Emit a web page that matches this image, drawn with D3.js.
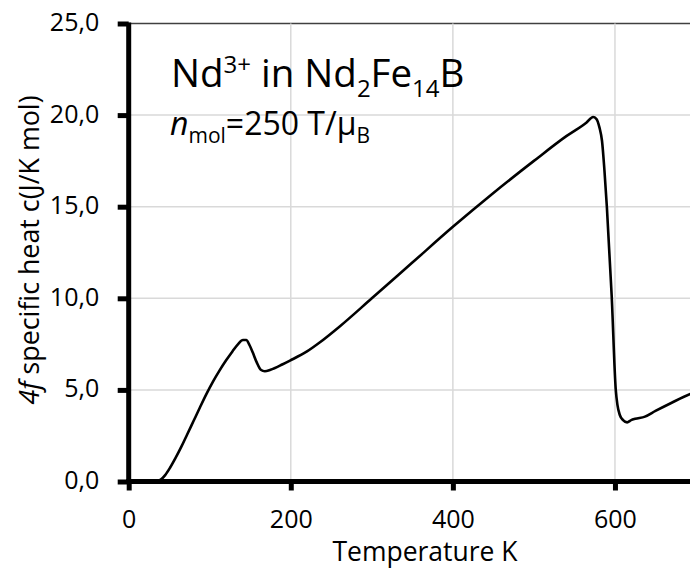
<!DOCTYPE html>
<html><head><meta charset="utf-8">
<script src="https://cdn.jsdelivr.net/npm/d3@7"></script>
<style>
body{margin:0;background:#fff;overflow:hidden}
svg{display:block;font-family:"Open Sans",sans-serif}
</style>
</head><body>
<svg id="chart" width="690" height="569"></svg>
<script>
// ---- data ----
const temperature  = [0, 20, 33, 40, 45, 51, 58, 65, 72, 80, 88, 96, 104, 112, 120, 128, 135, 141, 145, 149, 153, 158, 163, 168, 175, 190, 199, 220, 236, 260, 300, 350, 400, 450, 500, 540, 565, 573, 577, 581, 584, 587, 590, 596, 601, 603, 606, 610, 615, 620, 625, 637, 650, 670, 693, 700];
const specificHeat = [0, 0, 0, 0.12, 0.35, 0.75, 1.3, 1.9, 2.55, 3.3, 4.05, 4.78, 5.45, 6.05, 6.6, 7.1, 7.5, 7.72, 7.72, 7.45, 7.05, 6.5, 6.1, 6.02, 6.1, 6.4, 6.6, 7.1, 7.6, 8.45, 10.0, 11.95, 13.9, 15.75, 17.5, 18.85, 19.6, 19.9, 19.8, 19.3, 18.6, 17.0, 15.0, 10.1, 5.0, 4.2, 3.63, 3.35, 3.23, 3.35, 3.42, 3.54, 3.85, 4.3, 4.78, 4.9];
const xTickValues = [0, 200, 400, 600];
const xTickLabels = ["0", "200", "400", "600"];
const yTickValues = [0, 5, 10, 15, 20, 25];
const yTickLabels = ["0,0", "5,0", "10,0", "15,0", "20,0", "25,0"];
const xTitle = "Temperature K";

const svg = d3.select("#chart");
const x = d3.scaleLinear().domain([0, 700]).range([128.7, 696]);
const y = d3.scaleLinear().domain([0, 25]).range([481.5, 23.5]);

// gridlines
const grid = svg.append("g");
grid.selectAll("line.h").data(yTickValues.filter(v => v > 0)).join("line")
  .attr("x1", x(0)).attr("x2", 690)
  .attr("y1", d => y(d)).attr("y2", d => y(d))
  .attr("stroke", d => d === 25 ? "#404040" : "#d9d9d9")
  .attr("stroke-width", 1.5);
grid.selectAll("line.v").data(xTickValues.filter(v => v > 0)).join("line")
  .attr("x1", d => x(d)).attr("x2", d => x(d))
  .attr("y1", y(25)).attr("y2", y(0))
  .attr("stroke", "#d9d9d9").attr("stroke-width", 1.5);

// curve
const pts = temperature.map((t, i) => [t, specificHeat[i]]);
const line = d3.line().x(d => x(d[0])).y(d => y(d[1])).curve(d3.curveMonotoneX);
svg.append("path").datum(pts).attr("d", line)
  .attr("fill", "none").attr("stroke", "#000").attr("stroke-width", 2.6)
  .attr("stroke-linejoin", "round");

// axes
const xAxis = d3.axisBottom(x).tickValues(xTickValues).tickFormat((d, i) => xTickLabels[i])
  .tickSize(9).tickSizeOuter(0);
const gx = svg.append("g").attr("transform", `translate(0,${y(0)})`).call(xAxis);
gx.select(".domain").attr("stroke", "#000").attr("stroke-width", 5).attr("d", `M${x(0) - 2.5},0H696`);
gx.selectAll(".tick line").attr("stroke", "#000").attr("stroke-width", 5);
gx.selectAll(".tick text").attr("y", 46).attr("dy", null)
  .attr("font-size", 25).attr("fill", "#000").attr("font-family", "Open Sans");

const yAxis = d3.axisLeft(y).tickValues(yTickValues).tickFormat((d, i) => yTickLabels[i])
  .tickSize(11).tickSizeOuter(0);
const gy = svg.append("g").attr("transform", `translate(${x(0)},0)`).call(yAxis);
gy.select(".domain").attr("stroke", "#000").attr("stroke-width", 5)
  .attr("d", `M0,${y(0) + 2.5}V${y(25) - 1}`);
gy.selectAll(".tick line").attr("stroke", "#000").attr("stroke-width", 5);
gy.selectAll(".tick text").attr("x", -29.5).attr("dy", 7)
  .attr("font-size", 25).attr("fill", "#000").attr("font-family", "Open Sans");

// axis titles
svg.append("text").attr("x", 425).attr("y", 561).attr("text-anchor", "middle")
  .attr("font-size", 26.5).attr("fill", "#000").text(xTitle);

const yt = svg.append("text").attr("transform", "translate(39,250) rotate(-90)")
  .attr("text-anchor", "middle").attr("font-size", 26.8).attr("fill", "#000");
yt.append("tspan").attr("font-style", "italic").text("4f");
yt.append("tspan").text(" specific heat c(J/K mol)");

// title annotation
const t1 = svg.append("text").attr("x", 171).attr("y", 86.7).attr("font-size", 38.5).attr("fill", "#000");
t1.append("tspan").text("Nd");
t1.append("tspan").attr("font-size", 24).attr("dy", -14).text("3+");
t1.append("tspan").attr("font-size", 38.5).attr("dy", 14).text(" in Nd");
t1.append("tspan").attr("font-size", 24).attr("dy", 10).text("2");
t1.append("tspan").attr("font-size", 38.5).attr("dy", -10).text("Fe");
t1.append("tspan").attr("font-size", 24).attr("dy", 10).text("14");
t1.append("tspan").attr("font-size", 38.5).attr("dy", -10).text("B");

const t2 = svg.append("text").attr("x", 170).attr("y", 135).attr("font-size", 32).attr("fill", "#000");
t2.append("tspan").attr("font-style", "italic").text("n");
t2.append("tspan").attr("font-size", 21).attr("dy", 8).text("mol");
t2.append("tspan").attr("font-size", 32).attr("dy", -8).text("=250 T/μ");
t2.append("tspan").attr("font-size", 21).attr("dy", 8).text("B");
</script>
</body></html>
